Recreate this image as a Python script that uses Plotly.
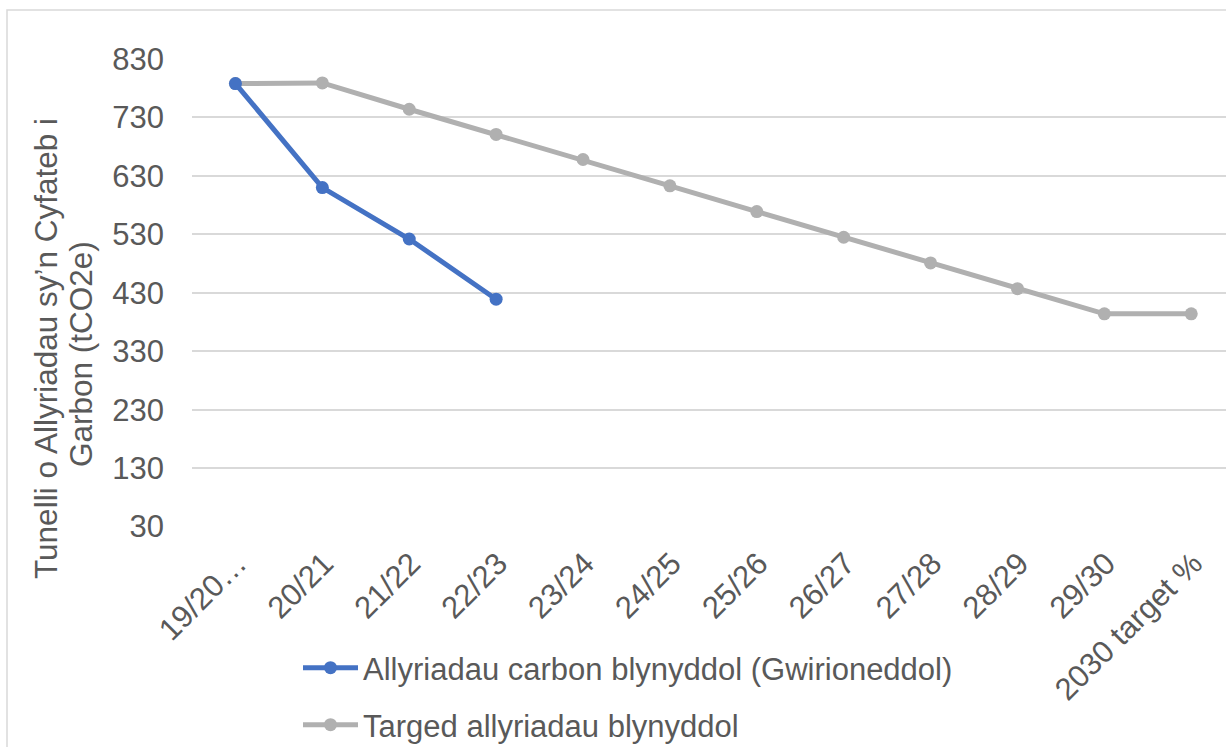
import plotly.graph_objects as go

categories = ["19/20…", "20/21", "21/22", "22/23", "23/24", "24/25", "25/26",
              "26/27", "27/28", "28/29", "29/30", "2030 target %"]
actual = [788, 610, 522, 419]
target = [788, 789, 744, 701, 658, 613, 569, 525, 481, 437, 394, 394]
y_ticks = [30, 130, 230, 330, 430, 530, 630, 730, 830]

name_actual = "Allyriadau carbon blynyddol (Gwirioneddol)"
name_target = "Targed allyriadau blynyddol"
y_title_1 = "Tunelli o Allyriadau sy’n Cyfateb i"
y_title_2 = "Garbon (tCO2e)"

W, H = 1226, 747
ML, MR, MT, MB = 192, 0, 59, 220
PW = W - ML - MR
PH = H - MT - MB

def px_x(p):
    return (p - ML) / PW

def px_y(p):
    return (H - MB - p) / PH

FONT = "Liberation Sans, Arial, sans-serif"
TXT = "#595959"
FS = 31
BLUE = "#4472C4"
GREY = "#B0B0B0"

fig = go.Figure()
fig.add_trace(go.Scatter(
    x=categories, y=target, name=name_target, mode="lines+markers",
    line=dict(color=GREY, width=5), marker=dict(size=13, color=GREY),
    legend="legend2"))
fig.add_trace(go.Scatter(
    x=categories[:len(actual)], y=actual, name=name_actual, mode="lines+markers",
    line=dict(color=BLUE, width=5), marker=dict(size=13, color=BLUE),
    legend="legend"))

fig.update_layout(
    width=W, height=H,
    margin=dict(l=ML, r=MR, t=MT, b=MB, autoexpand=False),
    paper_bgcolor="white", plot_bgcolor="white",
    font=dict(family=FONT, size=FS, color=TXT),
    showlegend=True,
    legend=dict(xref="container", yref="container", x=298 / W, y=1 - 668 / H,
                xanchor="left", yanchor="middle", itemwidth=55,
                font=dict(size=FS, color=TXT), bgcolor="rgba(0,0,0,0)"),
    legend2=dict(xref="container", yref="container", x=298 / W, y=1 - 725 / H,
                 xanchor="left", yanchor="middle", itemwidth=55,
                 font=dict(size=FS, color=TXT), bgcolor="rgba(0,0,0,0)"),
    xaxis=dict(type="category", categoryorder="array", categoryarray=categories,
               range=[-0.5, 11.4], tickangle=-45, showgrid=False, zeroline=False,
               showline=False, ticks="", tickfont=dict(size=FS, color=TXT),
               automargin=False),
    yaxis=dict(range=[29.2, 830], tickvals=y_ticks, showgrid=True, gridcolor="#D9D9D9",
               gridwidth=1.5, zeroline=False, showline=False, ticks="",
               tickfont=dict(size=FS, color=TXT), automargin=False),
)
fig.update_xaxes(ticklabelstandoff=11, ticklabelshift=2)
fig.update_yaxes(ticklabelstandoff=27)

fig.add_annotation(text=y_title_1, xref="paper", yref="paper",
                   x=px_x(46), y=px_y(349), xanchor="center", yanchor="middle",
                   textangle=-90, showarrow=False,
                   font=dict(size=31.5, color=TXT))
fig.add_annotation(text=y_title_2, xref="paper", yref="paper",
                   x=px_x(81), y=px_y(354), xanchor="center", yanchor="middle",
                   textangle=-90, showarrow=False,
                   font=dict(size=31.5, color=TXT))

fig.add_shape(type="rect", xref="paper", yref="paper",
              x0=px_x(7), x1=px_x(1240), y0=px_y(760), y1=px_y(10),
              line=dict(color="#D9D9D9", width=1.5), layer="below")

fig.write_html("out.html", config={"displayModeBar": False},
               post_script="document.body.style.margin='0px';")
